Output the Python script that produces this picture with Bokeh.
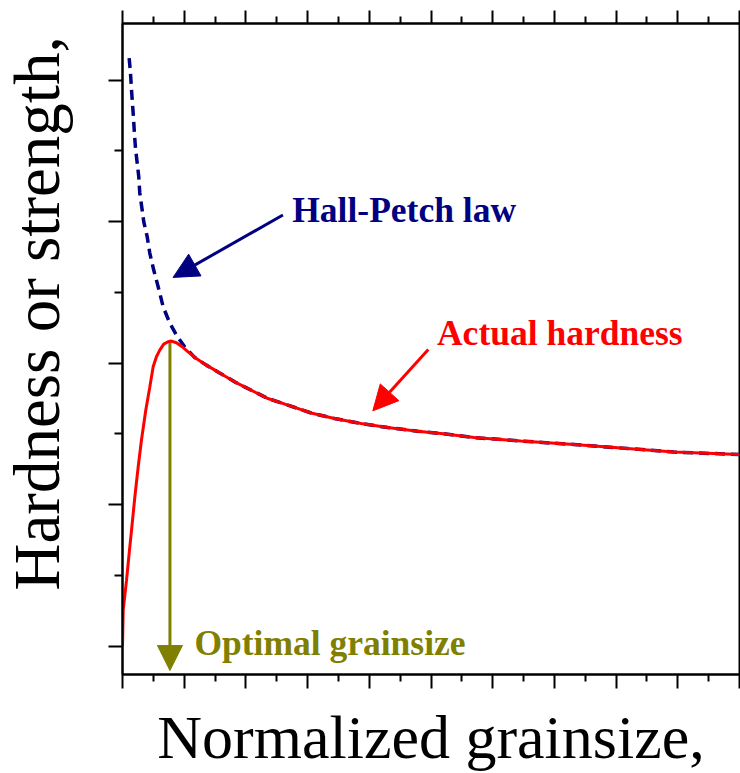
from bokeh.plotting import figure
from bokeh.models import (LinearAxis, FixedTicker, Range1d, Arrow, NormalHead, Label, Title)
from bokeh.embed import file_html
from bokeh.resources import INLINE

# ---- data ----
# Hall-Petch law (dashed), normalized grainsize vs hardness
hp_x = [0.108, 0.129, 0.146, 0.162, 0.178, 0.194, 0.210, 0.238, 0.264, 0.280, 0.312, 0.345,
        0.400, 0.442, 0.506, 0.578, 0.659, 0.766, 0.874, 1.008, 1.170, 1.359, 1.574, 1.817,
        1.979, 2.358, 2.681, 3.058, 3.435, 3.867, 4.299, 4.785, 5.162, 5.701, 6.456, 7.319,
        8.183, 8.937, 10.0]
hp_y = [5.156, 5.052, 4.931, 4.832, 4.733, 4.620, 4.521, 4.415, 4.316, 4.203, 4.104, 3.998,
        3.894, 3.778, 3.658, 3.540, 3.398, 3.283, 3.198, 3.115, 3.040, 2.986, 2.931, 2.868,
        2.832, 2.750, 2.703, 2.648, 2.609, 2.573, 2.545, 2.519, 2.503, 2.474, 2.450, 2.425,
        2.397, 2.372, 2.354]

# Actual hardness (solid red)
ah_x = [0.0, 0.011, 0.065, 0.108, 0.146, 0.200, 0.254, 0.307, 0.377, 0.442, 0.497, 0.550,
        0.604, 0.668, 0.739, 0.793, 0.874, 0.955, 1.063, 1.197, 1.359, 1.574, 1.817, 1.979,
        2.358, 2.681, 3.058, 3.435, 3.867, 4.299, 4.785, 5.162, 5.701, 6.456, 7.319, 8.183,
        8.937, 10.0]
ah_y = [1.0, 1.253, 1.465, 1.656, 1.819, 2.054, 2.266, 2.455, 2.667, 2.830, 2.974, 3.045,
        3.092, 3.134, 3.151, 3.156, 3.144, 3.120, 3.080, 3.033, 2.986, 2.931, 2.868, 2.832,
        2.750, 2.703, 2.648, 2.609, 2.573, 2.545, 2.519, 2.503, 2.474, 2.450, 2.425, 2.397,
        2.372, 2.354]

optimal_x = 0.769
peak_y = 3.155

x_major = [0, 1, 2, 3, 4, 5, 6, 7, 8, 9, 10]
x_minor = [0.5, 1.5, 2.5, 3.5, 4.5, 5.5, 6.5, 7.5, 8.5, 9.5]
y_major = [1, 2, 3, 4, 5]
y_minor = [1.5, 2.5, 3.5, 4.5]

NAVY = "#000080"
RED = "#FF0000"
OLIVE = "#808000"
SERIF = "Liberation Serif"
X_TITLE = "Normalized grainsize,"
Y_TITLE = "Hardness or strength,"

p = figure(width=740, height=773, output_backend="svg", toolbar_location=None,
           x_range=Range1d(0, 10), y_range=Range1d(0.8, 5.4),
           x_axis_location=None, y_axis_location=None,
           min_border_left=121, min_border_right=1, min_border_top=23, min_border_bottom=99)
p.xgrid.visible = False
p.ygrid.visible = False
p.outline_line_color = "black"
p.outline_line_width = 2
p.background_fill_color = "white"
p.border_fill_color = "white"


def style_axis(ax, major, minor, maj_len, min_len):
    ax.ticker = FixedTicker(ticks=major, minor_ticks=minor)
    ax.major_label_overrides = {t: "" for t in major}
    ax.major_label_standoff = 0
    ax.axis_line_color = "black"
    ax.axis_line_width = 2
    ax.major_tick_line_color = "black"
    ax.major_tick_line_width = 2
    ax.minor_tick_line_color = "black"
    ax.minor_tick_line_width = 2
    ax.major_tick_in = 0
    ax.minor_tick_in = 0
    ax.major_tick_out = maj_len
    ax.minor_tick_out = min_len


bottom = LinearAxis()
style_axis(bottom, x_major, x_minor, 14, 7)
bottom.axis_label = X_TITLE
bottom.axis_label_text_font = SERIF
bottom.axis_label_text_font_style = "normal"
bottom.axis_label_text_font_size = "62px"
bottom.axis_label_text_color = "black"
bottom.axis_label_standoff = 14
p.add_layout(bottom, "below")

top = LinearAxis()
style_axis(top, x_major, x_minor, 13, 7)
p.add_layout(top, "above")

left = LinearAxis()
style_axis(left, y_major, y_minor, 14, 8)
p.add_layout(left, "left")

# narrow spacer so that the y title sits near the page's left edge
p.add_layout(Title(text=" ", text_font_size="1px", standoff=31), "left")
p.add_layout(Title(text=Y_TITLE, align="left", offset=84, vertical_align="top",
                   text_font=SERIF, text_font_style="normal", text_font_size="65px",
                   text_color="black", standoff=0), "left")

# curves
p.line(hp_x, hp_y, line_color=NAVY, line_width=3.5, line_dash="10 6")
p.line(ah_x, ah_y, line_color=RED, line_width=3)

# arrows
p.add_layout(Arrow(end=NormalHead(size=25, fill_color=OLIVE, line_color=OLIVE),
                   x_start=optimal_x, y_start=peak_y, x_end=optimal_x, y_end=0.828,
                   line_color=OLIVE, line_width=3, level="underlay"))
p.add_layout(Arrow(end=NormalHead(size=25, fill_color=NAVY, line_color=NAVY),
                   x_start=2.600, y_start=4.047, x_end=0.820, y_end=3.606,
                   line_color=NAVY, line_width=3))
p.add_layout(Arrow(end=NormalHead(size=25, fill_color=RED, line_color=RED),
                   x_start=4.956, y_start=3.097, x_end=4.057, y_end=2.663,
                   line_color=RED, line_width=3))

# annotation texts
for tx, ty, txt, col in [(2.751, 4.082, "Hall-Petch law", NAVY),
                         (5.097, 3.212, "Actual hardness", RED),
                         (1.165, 1.026, "Optimal grainsize", OLIVE)]:
    p.add_layout(Label(x=tx, y=ty, text=txt, text_font=SERIF, text_font_style="bold",
                       text_font_size="35.5px", text_color=col,
                       text_align="left", text_baseline="alphabetic"))

open("out.html", "w").write(file_html(p, INLINE))
